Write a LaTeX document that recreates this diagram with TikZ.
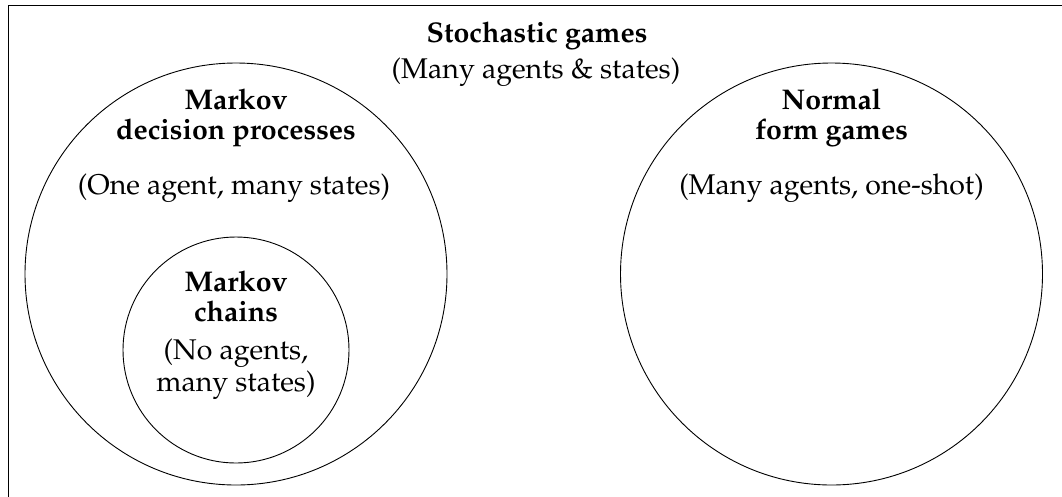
\documentclass[tikz,border=0pt]{standalone}
\usepackage[T1]{fontenc}
\usepackage{mathpazo}
\begin{document}
\begin{tikzpicture}[x=1pt,y=-1pt,
  every node/.style={inner sep=0pt, align=center},
  setcirc/.style={draw, circle, line width=0.9pt, inner sep=0pt},
  title/.style={font=\fontsize{28.5}{30}\selectfont\bfseries},
  sub/.style={font=\fontsize{28.5}{32}\selectfont}]
\useasboundingbox (0,0) rectangle (1062,496);
\node[draw, line width=1.2pt, minimum width=1100pt, minimum height=540pt, anchor=north west] (frame) at (8,5) {};
\node[setcirc, minimum size=422pt] (mdp) at (236,274) {};
\node[setcirc, minimum size=226pt] (mc) at (236,350) {};
\node[setcirc, minimum size=422pt] (nfg) at (831.5,274) {};
\node[title] (sgT) at (537,36) {Stochastic games};
\node[sub] (sgS) at (536,72) {(Many agents \& states)};
\node[title] (mdpT) at (236,118) {Markov\\decision processes};
\node[sub] (mdpS) at (234,188) {(One agent, many states)};
\node[title] (mcT) at (236,296) {Markov\\chains};
\node[sub] (mcS) at (236,369) {(No agents,\\many states)};
\node[title] (nfgT) at (831.5,118) {Normal\\form games};
\node[sub] (nfgS) at (831.5,188) {(Many agents, one-shot)};
\end{tikzpicture}
\end{document}
